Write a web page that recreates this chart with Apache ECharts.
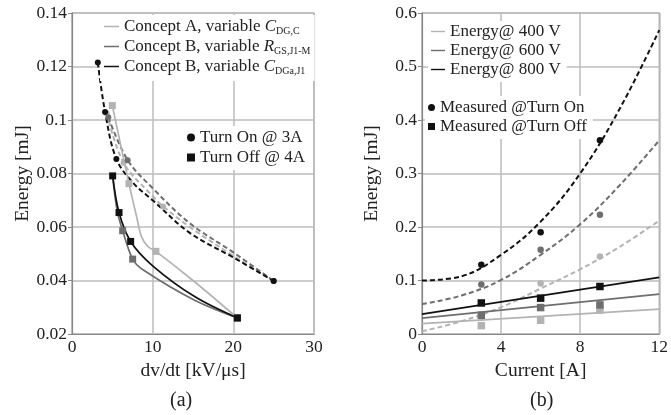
<!DOCTYPE html>
<html><head><meta charset="utf-8">
<script src="https://cdn.jsdelivr.net/npm/echarts@6/dist/echarts.min.js"></script>
<style>html,body{margin:0;padding:0;background:#fff}#c{width:671px;height:415px}</style>
</head><body><div id="c"></div>
<script>
// ---------- Panel (a) data ----------
const aXMin = 0, aXMax = 30, aXStep = 10;
const aYMin = 0.02, aYMax = 0.14, aYStep = 0.02;
const conceptNames = ['Concept A, variable CDG,C', 'Concept B, variable RGS,J1-M', 'Concept B, variable CDGa,J1'];
const markerNamesA = ['Turn On @ 3A', 'Turn Off @ 4A'];
// measured turn-on points (circles)
const onA  = [[4.3,0.1025],[6.4,0.084],[11.3,0.0677],[25,0.0398]];
const onBR = [[4.5,0.101],[6.9,0.085],[25,0.0398]];
const onBC = [[3.2,0.1215],[4.1,0.103],[5.5,0.0854],[25,0.0398]];
// measured turn-off points (squares)
const offA  = [[5.0,0.1054],[7.06,0.0762],[10.4,0.0509],[20.5,0.026]];
const offBR = [[6.28,0.0586],[7.52,0.048],[20.5,0.026]];
const offBC = [[5.04,0.0791],[5.83,0.0654],[7.27,0.0546],[20.5,0.026]];
// curves
const onACurve  = [[4.3,0.1025],[6.4,0.084],[10,0.0715],[11.3,0.0677],[14.6,0.0600],[20,0.0492],[25,0.0398]];
const onBRCurve = [[4.5,0.101],[6.9,0.085],[10,0.0745],[14.6,0.0614],[20,0.0505],[25,0.0398]];
const onBCCurve = [[3.2,0.1215],[4.1,0.103],[5.5,0.0854],[7.6,0.0764],[10,0.0700],[14.6,0.0578],[20,0.0486],[25,0.0398]];
const offACurve  = [[5.0,0.1054],[7.06,0.0762],[8.0,0.064],[8.6,0.0565],[9.4,0.0527],[10.4,0.0509],[15,0.040],[20.5,0.026]];
const offBRCurve = [[5.04,0.0791],[5.6,0.066],[6.28,0.0586],[7.52,0.048],[8.8,0.044],[15.2,0.0326],[20.5,0.026]];
const offBCCurve = [[5.04,0.0791],[5.83,0.0654],[7.27,0.0546],[10,0.0455],[15.2,0.034],[20.5,0.026]];

// ---------- Panel (b) data ----------
const bXMin = 0, bXMax = 12, bXStep = 4;
const bYMin = 0, bYMax = 0.6, bYStep = 0.1;
const energyNames = ['Energy@ 400 V', 'Energy@ 600 V', 'Energy@ 800 V'];
const markerNamesB = ['Measured @Turn On', 'Measured @Turn Off'];
const currents = [3, 6, 9];
const on400 = [0.031, 0.0945, 0.145];
const on600 = [0.0926, 0.1577, 0.2227];
const on800 = [0.1295, 0.190, 0.362];
const off400 = [0.0156, 0.0257, 0.045];
const off600 = [0.035, 0.0494, 0.0544];
const off800 = [0.058, 0.067, 0.0888];
const fitOnX = [0, 2, 4, 6, 8, 10, 12];
const fitOn400 = [0.005, 0.024, 0.050, 0.085, 0.121, 0.163, 0.212];
const fitOn600 = [0.056, 0.072, 0.101, 0.148, 0.205, 0.278, 0.362];
const fitOn800 = [0.100, 0.108, 0.148, 0.210, 0.300, 0.421, 0.568];
const fitOffX = [0, 12];
const fitOff400 = [0.0194, 0.0464];
const fitOff600 = [0.0295, 0.0745];
const fitOff800 = [0.037, 0.1057];

// ---------- styles ----------
const LIGHT = '#b3b3b3', MID = '#6e6e6e', DARK = '#111111';
const colors = [LIGHT, MID, DARK];
const FONT = 'Liberation Serif';
const zip = (xs, ys) => xs.map((x, i) => [x, ys[i]]);

function axisX(idx, min, max, step, name) {
  return {
    type: 'value', gridIndex: idx, min: min, max: max, interval: step,
    name: name, nameLocation: 'middle', nameGap: 25,
    nameTextStyle: { fontFamily: FONT, fontSize: 19.5, color: '#222' },
    axisLine: { show: true, lineStyle: { color: '#888', width: 1.2 } },
    axisTick: { show: false },
    axisLabel: { fontFamily: FONT, fontSize: 17.5, color: '#222', margin: 4 },
    splitLine: { show: true, lineStyle: { color: '#bdbdbd', width: 1.5 } }
  };
}
function axisY(idx, min, max, step, gap) {
  return {
    type: 'value', gridIndex: idx, min: min, max: max, interval: step,
    name: 'Energy [mJ]', nameLocation: 'middle', nameGap: gap, nameRotate: 90,
    nameTextStyle: { fontFamily: FONT, fontSize: 19.5, color: '#222' },
    axisLine: { show: true, lineStyle: { color: '#888', width: 1.2 } },
    axisTick: { show: true, inside: false, length: 4, lineStyle: { color: '#888' } },
    axisLabel: { fontFamily: FONT, fontSize: 17.5, color: '#222', margin: 5 },
    splitLine: { show: true, lineStyle: { color: '#bdbdbd', width: 1.5 } }
  };
}
function lineSeries(name, ax, data, color, dashed, smooth) {
  return {
    type: 'line', name: name, xAxisIndex: ax, yAxisIndex: ax, data: data,
    showSymbol: false, symbol: 'none', smooth: smooth, color: color, z: 2,
    lineStyle: { color: color, width: dashed ? 2 : 1.7, type: dashed ? [5, 3] : 'solid' },
    silent: true, animation: false
  };
}
function scatterSeries(name, ax, data, color, symbol, size) {
  return {
    type: 'scatter', name: name, xAxisIndex: ax, yAxisIndex: ax, data: data,
    symbol: symbol, symbolSize: size, color: color, itemStyle: { color: color, opacity: 1 },
    z: 4, silent: true, animation: false
  };
}

const series = [];
// panel (a)
[onACurve, onBRCurve, onBCCurve].forEach((d, i) => series.push(lineSeries('on-fit-a-' + i, 0, d, colors[i], true, 0.35)));
[offACurve, offBRCurve, offBCCurve].forEach((d, i) => series.push(lineSeries(conceptNames[i], 0, d, colors[i], false, 0.35)));
[onA, onBR, onBC].forEach((d, i) => series.push(scatterSeries('on-a-' + i, 0, d, colors[i], 'circle', 6)));
[offA, offBR, offBC].forEach((d, i) => series.push(scatterSeries('off-a-' + i, 0, d, colors[i], 'rect', 7)));
series.push(scatterSeries(markerNamesA[0], 0, [], DARK, 'circle', 6));
series.push(scatterSeries(markerNamesA[1], 0, [], DARK, 'rect', 7));
// panel (b)
[fitOn400, fitOn600, fitOn800].forEach((d, i) => series.push(lineSeries('on-fit-b-' + i, 1, zip(fitOnX, d), colors[i], true, 0.4)));
[fitOff400, fitOff600, fitOff800].forEach((d, i) => series.push(lineSeries(energyNames[i], 1, zip(fitOffX, d), colors[i], false, false)));
[on400, on600, on800].forEach((d, i) => series.push(scatterSeries('on-b-' + i, 1, zip(currents, d), colors[i], 'circle', 6.5)));
[off400, off600, off800].forEach((d, i) => series.push(scatterSeries('off-b-' + i, 1, zip(currents, d), colors[i], 'rect', 7.5)));
series.push(scatterSeries(markerNamesB[0], 1, [], DARK, 'circle', 6));
series.push(scatterSeries(markerNamesB[1], 1, [], DARK, 'rect', 7));

const conceptRich = {
  [conceptNames[0]]: '{t|Concept A, variable }{i|C}{s|DG,C}',
  [conceptNames[1]]: '{t|Concept B, variable }{i|R}{s|GS,J1-M}',
  [conceptNames[2]]: '{t|Concept B, variable }{i|C}{s|DGa,J1}'
};
const legendText = { fontFamily: FONT, fontSize: 17, color: '#222' };
const lineIcon = 'path://M0,0H20V2H0Z';

const option = {
  animation: false,
  backgroundColor: '#fff',
  grid: [
    { left: 72, right: 357, top: 13, bottom: 81, show: true, borderColor: '#999', borderWidth: 1.2 },
    { left: 422, right: 8, top: 13, bottom: 81, show: true, borderColor: '#999', borderWidth: 1.2 }
  ],
  xAxis: [axisX(0, aXMin, aXMax, aXStep, 'dv/dt [kV/\u03bcs]'), axisX(1, bXMin, bXMax, bXStep, 'Current [A]')],
  yAxis: [axisY(0, aYMin, aYMax, aYStep, 38), axisY(1, bYMin, bYMax, bYStep, 40)],
  legend: [
    {
      left: 100, top: 15, orient: 'vertical', itemWidth: 15, itemHeight: 2, itemGap: 1,
      icon: lineIcon, backgroundColor: '#fff', padding: [2, 4, 5, 4], selectedMode: false,
      data: conceptNames,
      formatter: n => conceptRich[n],
      textStyle: Object.assign({}, legendText, {
        rich: {
          t: { fontFamily: FONT, fontSize: 17, color: '#222', lineHeight: 19 },
          i: { fontFamily: FONT, fontSize: 17, color: '#222', fontStyle: 'italic', lineHeight: 19 },
          s: { fontFamily: FONT, fontSize: 10, color: '#222', verticalAlign: 'bottom', lineHeight: 10, padding: [9, 0, 0, 0] }
        }
      })
    },
    {
      left: 184, top: 126, orient: 'vertical', itemWidth: 8, itemHeight: 8, itemGap: 3,
      backgroundColor: '#fff', padding: [3, 6, 4, 3], selectedMode: false,
      data: [{ name: markerNamesA[0], icon: 'circle' }, { name: markerNamesA[1], icon: 'rect' }],
      textStyle: legendText
    },
    {
      left: 428, top: 21, orient: 'vertical', itemWidth: 14, itemHeight: 2, itemGap: 2,
      icon: lineIcon, backgroundColor: '#fff', padding: [2, 6, 4, 3], selectedMode: false,
      data: energyNames, textStyle: legendText
    },
    {
      left: 425, top: 96, orient: 'vertical', itemWidth: 7, itemHeight: 7, itemGap: 2,
      backgroundColor: '#fff', padding: [3, 6, 4, 3], selectedMode: false,
      data: [{ name: markerNamesB[0], icon: 'circle' }, { name: markerNamesB[1], icon: 'rect' }],
      textStyle: legendText
    }
  ],
  graphic: [
    { type: 'text', left: 170, top: 391, style: { text: '(a)', fontFamily: FONT, fontSize: 20, fill: '#222' } },
    { type: 'text', left: 530, top: 391, style: { text: '(b)', fontFamily: FONT, fontSize: 20, fill: '#222' } }
  ],
  series: series
};
const chart = echarts.init(document.getElementById('c'), null, { renderer: 'canvas' });
chart.setOption(option);
</script></body></html>
